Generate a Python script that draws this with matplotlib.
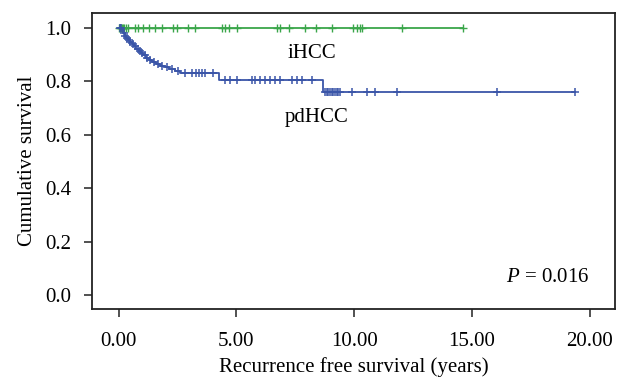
import matplotlib
matplotlib.use("Agg")
import matplotlib.pyplot as plt
import numpy as np

# ---- data ----
# iHCC: no events, survival stays at 1.0
ihcc_end = 14.62
ihcc_censor = [0.02, 0.06, 0.10, 0.14, 0.18, 0.22, 0.30, 0.41, 0.69, 0.83, 1.05, 1.30, 1.54,
               1.83, 2.32, 2.46, 2.96, 3.24, 4.38, 4.52, 4.70, 5.01, 6.71, 6.85, 7.25,
               7.92, 8.38, 9.05, 9.97, 10.11, 10.25, 10.33, 12.05, 14.62]

# pdHCC: event times and survival after each event
pd_event_times = [0.15, 0.20, 0.25, 0.30, 0.38, 0.46, 0.55, 0.65, 0.75, 0.85, 0.95, 1.05,
                  1.15, 1.28, 1.42, 1.58, 1.75, 1.95, 2.15, 2.40, 2.62, 4.28, 8.67]
pd_surv = [0.990, 0.980, 0.970, 0.962, 0.955, 0.946, 0.938, 0.930, 0.922, 0.914, 0.905,
           0.896, 0.888, 0.880, 0.872, 0.865, 0.858, 0.851, 0.845, 0.838, 0.829, 0.804, 0.759]
pd_end = 19.39
pd_censor = [0.05, 0.10, 0.22, 0.28, 0.35, 0.42, 0.50, 0.60, 0.70, 0.80, 0.90, 1.00, 1.10,
             1.22, 1.35, 1.50, 1.68, 1.85, 2.05, 2.25, 2.50, 2.82, 3.10, 3.27, 3.41,
             3.53, 3.67, 4.02, 4.52, 4.73, 5.01, 5.65, 5.79, 6.00, 6.22, 6.43, 6.64,
             6.85, 7.35, 7.56, 7.78, 8.20, 8.77, 8.84, 8.91, 8.98, 9.05, 9.12, 9.19,
             9.26, 9.33, 9.40, 9.90, 10.54, 10.89, 11.81, 16.06, 19.39]

x_ticks = [0, 5, 10, 15, 20]
x_ticklabels = ["0.00", "5.00", "10.00", "15.00", "20.00"]
y_ticks = [0.0, 0.2, 0.4, 0.6, 0.8, 1.0]
y_ticklabels = ["0.0", "0.2", "0.4", "0.6", "0.8", "1.0"]

green = "#3aa64a"
blue = "#3a55a8"

plt.rcParams['font.family'] = ['Liberation Serif', 'DejaVu Serif']
plt.rcParams['mathtext.fontset'] = 'custom'
plt.rcParams['mathtext.it'] = 'Liberation Serif:italic'
plt.rcParams['mathtext.rm'] = 'Liberation Serif'

FS = 15

fig = plt.figure(figsize=(6.17, 3.79), dpi=100)
ax = fig.add_axes([0.1496, 0.1839, 0.9968 - 0.1496, 0.9665 - 0.1839])

# iHCC curve
ax.step([0, ihcc_end], [1.0, 1.0], where='post', color=green, lw=1.3)
ax.plot(ihcc_censor, np.ones(len(ihcc_censor)), linestyle='none', marker='+',
        markersize=6, mew=1.0, color=green)

# pdHCC curve
t = np.concatenate([[0.0], pd_event_times, [pd_end]])
s = np.concatenate([[1.0], pd_surv, [pd_surv[-1]]])
ax.step(t, s, where='post', color=blue, lw=1.3)

def surv_at(x):
    idx = np.searchsorted(t, x, side='right') - 1
    return s[idx]

pc = np.array(pd_censor)
ax.plot(pc, [surv_at(x) for x in pc], linestyle='none', marker='+',
        markersize=6, mew=1.1, color=blue)

ax.text(8.2, 0.905, "iHCC", fontsize=FS, ha='center', va='center')
ax.text(8.41, 0.665, "pdHCC", fontsize=FS, ha='center', va='center')
ax.text(20.0, 0.067, "$P$ = 0.016", fontsize=FS, ha='right', va='center')

ax.set_xlim(-1.12, 21.08)
ax.set_ylim(-0.0535, 1.056)
ax.set_xticks(x_ticks)
ax.set_xticklabels(x_ticklabels)
ax.set_yticks(y_ticks)
ax.set_yticklabels(y_ticklabels)
ax.tick_params(axis='both', labelsize=FS, length=6, width=1.1, color='#222222')
ax.tick_params(axis='y', pad=9)
ax.tick_params(axis='x', pad=10)
for sp in ax.spines.values():
    sp.set_linewidth(1.3)
    sp.set_color('#222222')

ax.set_xlabel("Recurrence free survival (years)", fontsize=FS, labelpad=5)
ax.set_ylabel("Cumulative survival", fontsize=FS, labelpad=6)

fig.savefig("out.png", dpi=100)
